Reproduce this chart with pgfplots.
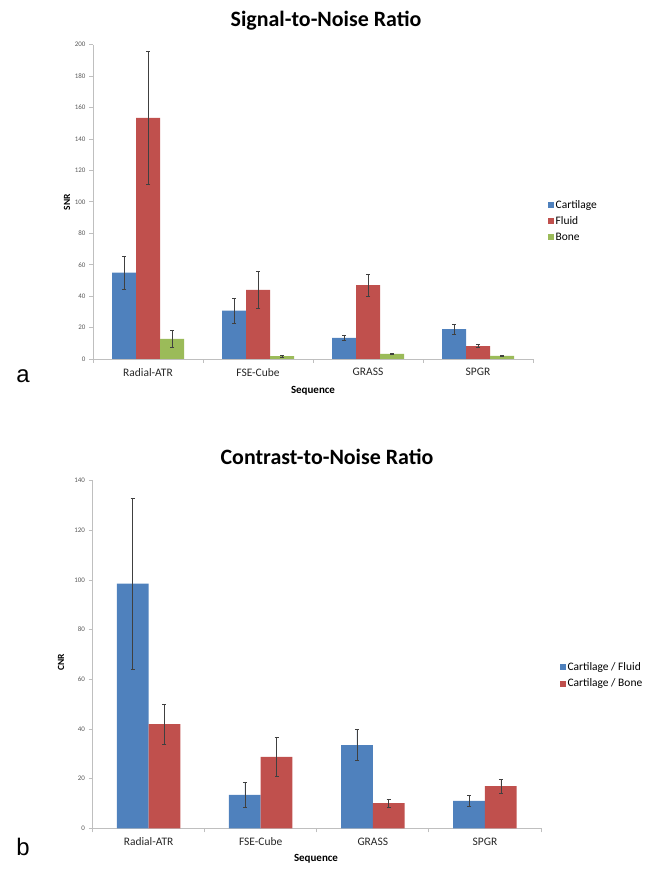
\documentclass[border=0pt]{standalone}
\usepackage{fontspec}
\setmainfont{Carlito}
\newfontfamily\arialfont{Liberation Sans}
\usepackage{pgfplots}
\pgfplotsset{compat=1.18}
\definecolor{xblue}{HTML}{4F81BD}
\definecolor{xred}{HTML}{C0504D}
\definecolor{xgreen}{HTML}{9BBB59}
\definecolor{axgray}{HTML}{BFBFBF}
\definecolor{txtgray}{HTML}{595959}
\pgfplotsset{
 excel/.style={
  scale only axis,
  axis x line*=bottom, axis y line*=left,
  axis line style={draw=axgray, line width=0.8bp, -},
  xmin=-0.5, xmax=3.5, ymin=0,
  xtick={-0.5,0.5,1.5,2.5,3.5},
  xticklabels={Radial-ATR,FSE-Cube,GRASS,SPGR},
  x tick label as interval,
  tick align=outside,
  major tick length=4bp,
  tick style={draw=axgray, line width=0.8bp},
  yticklabel style={font=\fontsize{7}{8}\selectfont, text=txtgray},
  xticklabel style={font=\fontsize{11.5}{13}\selectfont, text=black!85, yshift=-2bp},
  /pgf/number format/assume math mode=true,
  ybar=0pt,
  clip=false,
  legend style={draw=none, fill=none, font=\fontsize{11.5}{13}\selectfont, anchor=west, inner sep=0pt, row sep=4bp, nodes={inner sep=1.5bp}},
  legend cell align=left,
 },
 ebar/.style={error bars/.cd, y dir=both, y explicit,
   error bar style={draw=black!75, line width=0.5bp},
   error mark=-,
   error mark options={draw=black!75, line width=0.5bp, mark size=2bp, rotate=90}},
}
\begin{document}
\begin{tikzpicture}[x=1bp,y=1bp]
\useasboundingbox (0,0) rectangle (661,882);
% ---------- panel a ----------
\begin{axis}[excel, at={(93bp,523bp)}, anchor=south west,
  width=440bp, height=314.3bp, ymax=200, ytick={0,20,...,200},
  bar width=24bp,
  legend image code/.code={\fill[#1] (0bp,-3bp) rectangle (6bp,3bp);},
  legend style={at={(1.034,0.439)}}]
\addplot[fill=xblue, draw=none, ebar] coordinates {
 (0,55) +- (0,10.5) (1,30.8) +- (0,8) (2,13.5) +- (0,1.8) (3,19) +- (0,3.2)};
\addlegendentry{Cartilage}
\addplot[fill=xred, draw=none, ebar] coordinates {
 (0,153.5) +- (0,42.3) (1,44) +- (0,11.7) (2,47) +- (0,7) (3,8.2) +- (0,1)};
\addlegendentry{Fluid}
\addplot[fill=xgreen, draw=none, ebar] coordinates {
 (0,12.8) +- (0,5.5) (1,1.8) +- (0,0.5) (2,3.2) +- (0,0.5) (3,2) +- (0,0.5)};
\addlegendentry{Bone}
\end{axis}
\node[font=\bfseries\fontsize{22}{26}\selectfont] at (326,861) {Signal-to-Noise Ratio};
\node[rotate=90, font=\bfseries\fontsize{9.5}{11}\selectfont] at (67,680) {SNR};
\node[font=\bfseries\fontsize{11}{13}\selectfont] at (313,491) {Sequence};
\node[font=\arialfont\fontsize{24}{28}\selectfont] at (23,506) {a};
% ---------- panel b ----------
\begin{axis}[excel, at={(92.5bp,53.7bp)}, anchor=south west,
  width=448.5bp, height=347.7bp, ymax=140, ytick={0,20,...,140},
  bar width=31.7bp,
  legend image code/.code={\fill[#1] (0bp,-3bp) rectangle (6bp,3bp);},
  legend style={at={(1.042,0.4395)}}]
\addplot[fill=xblue, draw=none, ebar] coordinates {
 (0,98.5) +- (0,34.5) (1,13.5) +- (0,5) (2,33.5) +- (0,6.3) (3,11) +- (0,2.3)};
\addlegendentry{Cartilage / Fluid}
\addplot[fill=xred, draw=none, ebar] coordinates {
 (0,41.9) +- (0,8) (1,28.8) +- (0,7.7) (2,10.1) +- (0,1.6) (3,17) +- (0,2.8)};
\addlegendentry{Cartilage / Bone}
\end{axis}
\node[font=\bfseries\fontsize{22}{26}\selectfont] at (327,425) {Contrast-to-Noise Ratio};
\node[rotate=90, font=\bfseries\fontsize{9.5}{11}\selectfont] at (61,220) {CNR};
\node[font=\bfseries\fontsize{11}{13}\selectfont] at (316,23) {Sequence};
\node[font=\arialfont\fontsize{24}{28}\selectfont] at (23,35) {b};
\end{tikzpicture}
\end{document}
